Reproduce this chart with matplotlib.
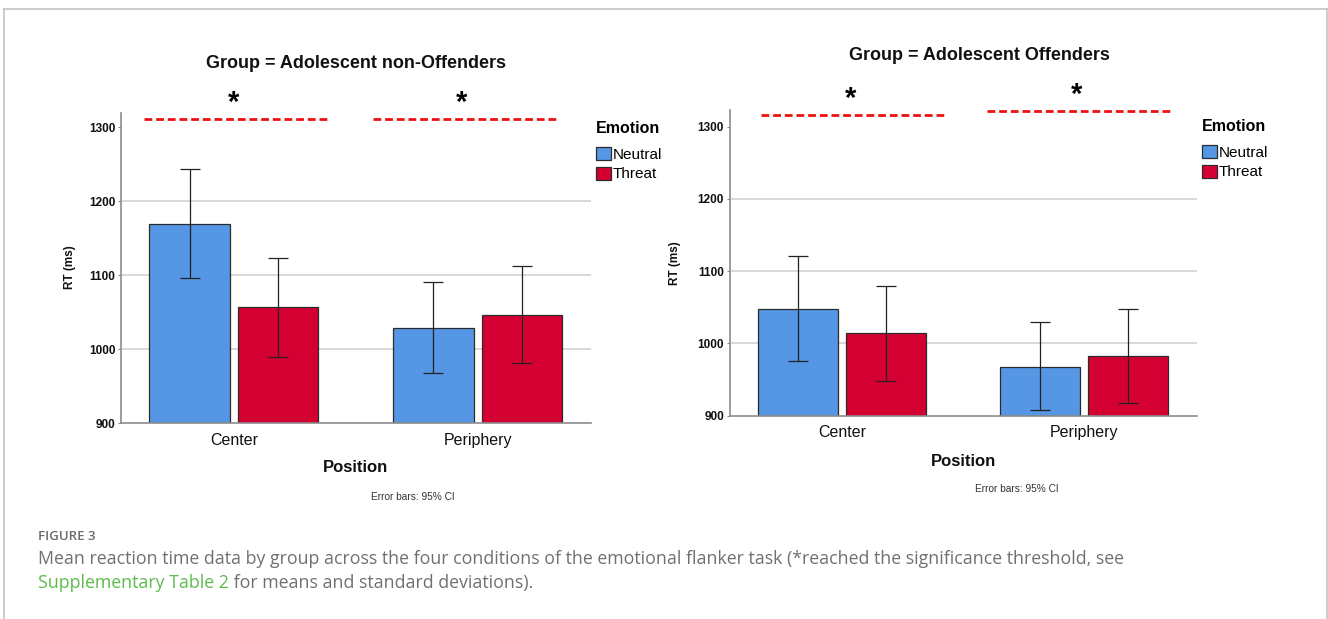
import matplotlib
matplotlib.use("Agg")
import matplotlib.pyplot as plt
from matplotlib.patches import Patch
from matplotlib.lines import Line2D
import numpy as np

# Mean RT (ms) and 95% CI bounds per position, for each group and emotion
positions = ["Center", "Periphery"]
emotions = ["Neutral", "Threat"]

nonoff_neutral = [1169, 1029]
nonoff_neutral_lo = [1096, 968]
nonoff_neutral_hi = [1243, 1091]
nonoff_threat = [1057, 1047]
nonoff_threat_lo = [990, 981]
nonoff_threat_hi = [1123, 1113]

off_neutral = [1048, 968]
off_neutral_lo = [976, 908]
off_neutral_hi = [1121, 1029]
off_threat = [1014, 982]
off_threat_lo = [948, 918]
off_threat_hi = [1079, 1048]

# significance markers: dashed line level and span per position
nonoff_sig_y = [1311, 1311]
nonoff_sig_span = [(-0.37, 0.385), (0.57, 1.32)]
off_sig_y = [1316, 1321]
off_sig_span = [(-0.335, 0.427), (0.6, 1.36)]

BLUE = "#5596e5"
RED = "#d50032"
FONT = ["Liberation Sans", "DejaVu Sans"]

plt.rcParams["font.family"] = FONT

W, H = 1328, 619
fig = plt.figure(figsize=(W / 100, H / 100), dpi=100)


def fx(px):
    return px / W


def fy(py):
    return 1 - py / H


def draw_panel(ax, neutral, n_lo, n_hi, threat, t_lo, t_hi, ymax, sig_y, sig_span):
    x = np.arange(len(positions))
    width = 0.33
    off = 0.182
    series = [
        (neutral, n_lo, n_hi, BLUE, -off),
        (threat, t_lo, t_hi, RED, off),
    ]
    for g in [1000, 1100, 1200]:
        ax.axhline(g, color="#d6d6d6", linewidth=1.3, zorder=0)
    for means, lo, hi, color, dx in series:
        means = np.array(means)
        ax.bar(x + dx, means - 900, width=width, bottom=900, color=color,
               edgecolor="#2b2b2b", linewidth=0.9, zorder=2)
        err = [means - np.array(lo), np.array(hi) - means]
        ax.errorbar(x + dx, means, yerr=err, fmt="none", ecolor="#222222",
                    elinewidth=0.9, capsize=7.5, capthick=0.9, zorder=3)

    # significance: red dashed line with an asterisk above
    for yv, (x0, x1) in zip(sig_y, sig_span):
        ax.plot([x0, x1], [yv, yv], color="#ee1111", linewidth=2.0,
                dashes=(2.8, 1.4), clip_on=False, zorder=4)
        ax.text((x0 + x1) / 2 - 0.01, yv + 3, "*", ha="center", va="bottom",
                fontsize=21, fontweight="bold", clip_on=False)

    ax.set_ylim(900, ymax)
    ax.set_xlim(-0.463, 1.465)
    ax.set_yticks([900, 1000, 1100, 1200, 1300])
    ax.set_xticks(x, positions)
    ax.tick_params(axis="y", length=2, pad=2, labelsize=8.5, colors="#888888",
                   labelcolor="#111111")
    for lab in ax.get_yticklabels():
        lab.set_fontweight("bold")
    ax.tick_params(axis="x", length=0, pad=7, labelsize=11.5, labelcolor="#111111")
    for side in ["top", "right"]:
        ax.spines[side].set_visible(False)
    for side in ["left", "bottom"]:
        ax.spines[side].set_color("#8c8c8c")
        ax.spines[side].set_linewidth(1.2)


def add_legend(ax, x_px, y_px):
    handles = [Patch(facecolor=BLUE, edgecolor="#2b2b2b", linewidth=0.9),
               Patch(facecolor=RED, edgecolor="#2b2b2b", linewidth=0.9)]
    leg = ax.legend(handles, emotions, title="Emotion", loc="upper left",
                    bbox_to_anchor=(fx(x_px), fy(y_px)), bbox_transform=fig.transFigure,
                    frameon=False, fontsize=11, handlelength=0.95, handleheight=0.95,
                    handletextpad=0.12, labelspacing=0.3, borderpad=0,
                    borderaxespad=0, alignment="left",
                    title_fontproperties={"weight": "bold", "size": 11.5})
    leg._legend_box.sep = 8


# left panel: adolescent non-offenders
ax1 = fig.add_axes([fx(121), fy(423.3), fx(591) - fx(121), (423.3 - 112.7) / H])
draw_panel(ax1, nonoff_neutral, nonoff_neutral_lo, nonoff_neutral_hi,
           nonoff_threat, nonoff_threat_lo, nonoff_threat_hi, 1319.7,
           nonoff_sig_y, nonoff_sig_span)
add_legend(ax1, 596, 121)

# right panel: adolescent offenders
ax2 = fig.add_axes([fx(729.5), fy(415.7), fx(1197) - fx(729.5), (415.7 - 110) / H])
draw_panel(ax2, off_neutral, off_neutral_lo, off_neutral_hi,
           off_threat, off_threat_lo, off_threat_hi, 1323,
           off_sig_y, off_sig_span)
add_legend(ax2, 1202, 119)

# panel texts placed in figure pixels
panel_texts = [
    (356, 63, "Group = Adolescent non-Offenders", 13, "bold", "#111111"),
    (979, 55, "Group = Adolescent Offenders", 13, "bold", "#111111"),
    (355, 468, "Position", 12, "bold", "#111111"),
    (963, 461, "Position", 12, "bold", "#111111"),
    (413, 497, "Error bars: 95% CI", 7.3, "normal", "#333333"),
    (1017, 489, "Error bars: 95% CI", 7.3, "normal", "#333333"),
]
for px, py, s, size, weight, color in panel_texts:
    fig.text(fx(px), fy(py), s, ha="center", va="center", fontsize=size,
             fontweight=weight, color=color)

fig.text(fx(70), fy(267), "RT (ms)", rotation=90, ha="center", va="center",
         fontsize=8.5, fontweight="bold", color="#111111")
fig.text(fx(675), fy(263), "RT (ms)", rotation=90, ha="center", va="center",
         fontsize=8.5, fontweight="bold", color="#111111")

# figure caption
CAP = ["Open Sans", "DejaVu Sans"]
fig.text(fx(38), fy(536), "FIGURE 3", ha="left", va="center", fontsize=9.5,
         family=CAP, color="#6a6a6a", fontweight="semibold")
fig.text(fx(38), fy(559),
         "Mean reaction time data by group across the four conditions of the emotional "
         "flanker task (*reached the significance threshold, see",
         ha="left", va="center", fontsize=12.75, family=CAP, color="#707070")
link = fig.text(fx(38), fy(583), "Supplementary Table 2", ha="left", va="center",
                fontsize=12.75, family=CAP, color="#5cbb4c")
tail = fig.text(fx(38), fy(583), " for means and standard deviations).", ha="left",
                va="center", fontsize=12.75, family=CAP, color="#707070")

# outer frame (top, left, right)
frame = "#c4c4c4"
fig.add_artist(Line2D([fx(4), fx(1327)], [fy(9), fy(9)], color=frame, linewidth=1.2))
fig.add_artist(Line2D([fx(4), fx(4)], [fy(9), 0], color=frame, linewidth=1.2))
fig.add_artist(Line2D([fx(1327), fx(1327)], [fy(9), 0], color=frame, linewidth=1.2))

# place the trailing caption text right after the link
fig.canvas.draw()
bb = link.get_window_extent()
tail.set_position((bb.x1 / W, fy(583)))

plt.savefig("out.png", dpi=100)
plt.close()
